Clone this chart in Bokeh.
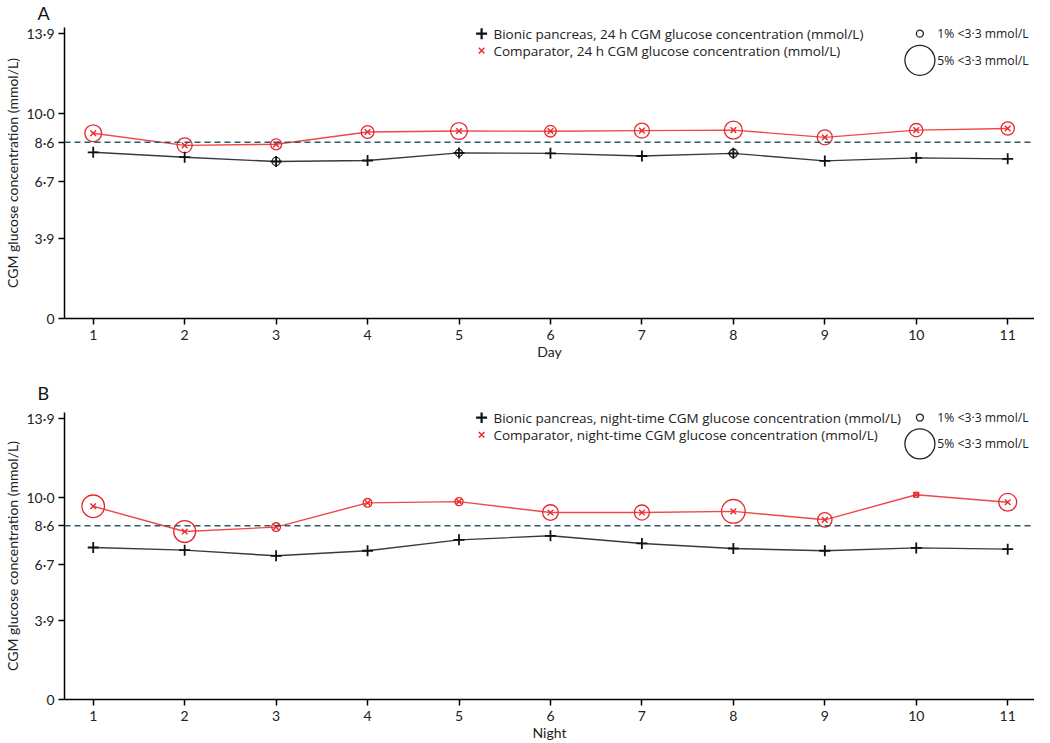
from bokeh.plotting import figure
from bokeh.models import Range1d, FixedTicker, Span, ColumnDataSource
from bokeh.layouts import column
from bokeh.core.properties import value
from bokeh.embed import file_html
from bokeh.resources import INLINE

# ---------------- data ----------------
days = [1, 2, 3, 4, 5, 6, 7, 8, 9, 10, 11]
ytick_values = [0, 3.9, 6.7, 8.6, 10.0, 13.9]
ytick_labels = ["0", "3·9", "6·7", "8·6", "10·0", "13·9"]
target_line = 8.6

# Panel A: 24 h mean CGM glucose (mmol/L) and % time <3.3 mmol/L
bionic_24h = [8.11, 7.87, 7.66, 7.71, 8.08, 8.06, 7.93, 8.06, 7.69, 7.84, 7.79]
bionic_24h_hypo = [0, 0, 1.2, 0, 1.0, 0, 0, 1.2, 0, 0, 0]
comp_24h = [9.04, 8.45, 8.50, 9.10, 9.15, 9.14, 9.17, 9.19, 8.84, 9.19, 9.27]
comp_24h_hypo = [2.7, 2.4, 1.7, 2.0, 2.7, 1.8, 2.4, 2.9, 2.4, 2.1, 2.1]

# Panel B: night-time
bionic_night = [7.52, 7.39, 7.11, 7.36, 7.90, 8.10, 7.72, 7.47, 7.36, 7.50, 7.44]
bionic_night_hypo = [0, 0, 0, 0, 0, 0, 0, 0, 0, 0, 0]
comp_night = [9.56, 8.31, 8.53, 9.73, 9.79, 9.25, 9.25, 9.31, 8.89, 10.13, 9.76]
comp_night_hypo = [3.7, 3.6, 1.3, 1.3, 1.2, 2.5, 2.4, 3.9, 2.3, 0.7, 2.9]

legend_pcts = [1, 5]
legend_pct_labels = ["1% <3·3 mmol/L", "5% <3·3 mmol/L"]

FONT = "Open Sans"
AXFONT = "Lato"
BLACK_LINE = "#3a3a3a"
RED_LINE = "#f04848"
RED_MARK = "#e8282e"
DASH = "#2f5a66"
TXT = "#222222"


def pct_to_size(p):
    return 1.25 + 5.75 * p


def make_panel(letter, xlabel, bionic, bionic_hypo, comp, comp_hypo, label_b, label_c,
               height, top, bottom, title_standoff, leg_y):
    p = figure(width=1034, height=height, output_backend="svg", toolbar_location=None,
               x_range=Range1d(0.686, 11.293), y_range=Range1d(0, 14.2),
               min_border_left=55, min_border_right=0, min_border_top=top,
               min_border_bottom=bottom)
    p.outline_line_color = None
    p.xgrid.visible = False
    p.ygrid.visible = False

    p.title.text = letter
    p.title.text_font = "Lato"
    p.title.text_font_size = "18px"
    p.title.text_font_style = "normal"
    p.title.text_color = "#111111"
    p.title.align = "left"
    p.title.vertical_align = "top"
    p.title.offset = -27
    p.title.standoff = title_standoff

    for ax in (p.xaxis[0], p.yaxis[0]):
        ax.axis_line_color = "black"
        ax.axis_line_width = 1.5
        ax.major_tick_line_color = "black"
        ax.major_tick_line_width = 1.5
        ax.major_tick_out = 6
        ax.major_tick_in = 0
        ax.minor_tick_line_color = None
        ax.major_label_text_font = AXFONT
        ax.major_label_text_font_size = "14px"
        ax.major_label_text_color = TXT
        ax.axis_label_text_font = AXFONT
        ax.axis_label_text_font_size = "14px"
        ax.axis_label_text_font_style = "normal"
        ax.axis_label_text_color = TXT

    p.xaxis.ticker = FixedTicker(ticks=days)
    p.xaxis.major_label_standoff = 5
    p.xaxis.axis_label = xlabel
    p.xaxis.axis_label_standoff = 0

    p.yaxis.ticker = FixedTicker(ticks=ytick_values)
    p.yaxis.major_label_overrides = dict(zip(ytick_values, ytick_labels))
    p.yaxis.major_label_standoff = 4
    p.yaxis.axis_label = "CGM glucose concentration (mmol/L)"
    p.yaxis.axis_label_standoff = 3

    p.add_layout(Span(location=target_line, dimension="width", line_color=DASH,
                      line_width=1.5, line_dash="6 4"))

    # lines
    p.line(days, bionic, line_color=BLACK_LINE, line_width=1.4)
    p.line(days, comp, line_color=RED_LINE, line_width=1.4)

    # hypoglycaemia circles
    def circles(vals, pcts, color):
        xs = [d for d, q in zip(days, pcts) if q > 0]
        ys = [v for v, q in zip(vals, pcts) if q > 0]
        ss = [pct_to_size(q) for q in pcts if q > 0]
        if xs:
            src = ColumnDataSource(dict(x=xs, y=ys, s=ss))
            p.scatter("x", "y", size="s", source=src, marker="circle",
                      fill_color=None, line_color=color, line_width=1.3)

    circles(bionic, bionic_hypo, "#222222")
    circles(comp, comp_hypo, RED_MARK)

    # markers
    p.scatter(days, bionic, marker="cross", size=11, line_color="#111111", line_width=1.8)
    p.scatter(days, comp, marker="x", size=8, line_color=RED_MARK, line_width=1.4)

    # legend (drawn in data space)
    y1, y2, y3 = leg_y
    p.scatter([5.247], [y1], marker="cross", size=11, line_color="#111111", line_width=2.2)
    p.scatter([5.247], [y2], marker="x", size=8, line_color=RED_MARK, line_width=1.4)
    p.text([5.377, 5.377], [y1, y2], text=[label_b, label_c], text_font=value(FONT),
           text_font_size="13.5px", text_baseline="middle", text_align="left",
           text_color=TXT)
    p.scatter([10.04, 10.04], [y1, y3], marker="circle",
              size=[pct_to_size(q) for q in legend_pcts],
              fill_color=None, line_color="#222222", line_width=1.3)
    p.text([10.23, 10.23], [y1, y3], text=legend_pct_labels, text_font=value(FONT),
           text_font_size="12.2px", text_baseline="middle", text_align="left",
           text_color=TXT)
    return p


pa = make_panel("A", "Day", bionic_24h, bionic_24h_hypo, comp_24h, comp_24h_hypo,
                "Bionic pancreas, 24 h CGM glucose concentration (mmol/L)",
                "Comparator, 24 h CGM glucose concentration (mmol/L)",
                height=362, top=27, bottom=44, title_standoff=3,
                leg_y=(13.9, 13.07, 12.6))
pb = make_panel("B", "Night", bionic_night, bionic_night_hypo, comp_night, comp_night_hypo,
                "Bionic pancreas, night-time CGM glucose concentration (mmol/L)",
                "Comparator, night-time CGM glucose concentration (mmol/L)",
                height=381, top=50, bottom=41, title_standoff=14,
                leg_y=(13.95, 13.1, 12.65))

layout = column(pa, pb, spacing=0)
open("out.html", "w").write(file_html(layout, INLINE))
